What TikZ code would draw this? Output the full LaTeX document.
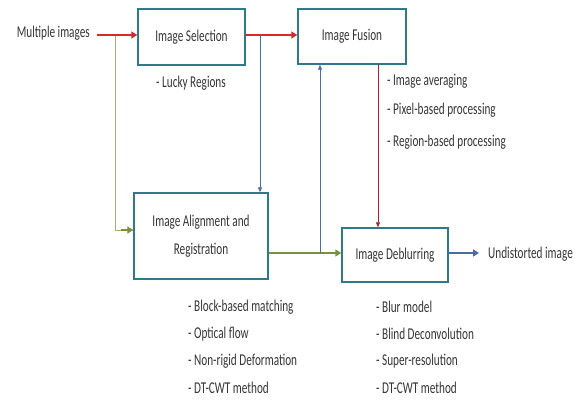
\documentclass[tikz,border=0pt]{standalone}
\usepackage{fontspec}
\setmainfont{Carlito}[FakeStretch=0.68]
\usetikzlibrary{arrows.meta}
\definecolor{boxc}{HTML}{2E7A8A}
\definecolor{redc}{HTML}{D42A2A}
\definecolor{greenc}{HTML}{77933C}
\definecolor{bluec}{HTML}{4A6BA5}
\definecolor{txt}{HTML}{363636}
\begin{document}
\begin{tikzpicture}[x=1pt,y=-1pt,
  box/.style={draw=boxc,line width=1.4pt,fill=white,inner sep=0pt,align=center,font=\fontsize{16.5}{28}\selectfont,text=txt},
  lab/.style={anchor=west,inner sep=0pt,font=\fontsize{16.5}{20}\selectfont,text=txt},
  rarr/.style={draw=redc,line width=1.6pt,-{Triangle[length=6pt,width=7pt]}},
  garr/.style={draw=greenc,line width=1.6pt,-{Triangle[length=6pt,width=7pt]}},
  barr/.style={draw=bluec,line width=1.6pt,-{Triangle[length=6pt,width=7pt]}},
  rthin/.style={draw=redc!80!black,line width=0.8pt,-{Triangle[length=5pt,width=4pt]}},
  bthin/.style={draw=bluec,line width=0.8pt,-{Triangle[length=5pt,width=4pt]}},
  gthin/.style={draw=greenc!70!white,line width=0.9pt}]
\useasboundingbox (0,0) rectangle (582,401);
\fill[white] (0,0) rectangle (582,401);
% boxes
\node[box,minimum width=107pt,minimum height=56pt] (sel) at (191.5,37) {Image Selection};
\node[box,minimum width=108pt,minimum height=55pt] (fus) at (352,36.5) {Image Fusion};
\node[box,minimum width=134pt,minimum height=86pt] (ali) at (201,236) {Image Alignment and\\Registration};
\node[box,minimum width=106pt,minimum height=54pt] (deb) at (395,255) {Image Deblurring};
% texts
\node[lab,anchor=east] (mi) at (90,33) {Multiple images};
\node[lab] (out) at (488,254) {Undistorted image};
\node[lab] (lucky) at (156,83) {- Lucky Regions};
\node[lab] (f1) at (387,81) {- Image averaging};
\node[lab] (f2) at (387,110) {- Pixel-based processing};
\node[lab] (f3) at (387,142) {- Region-based processing};
\node[lab] (a1) at (188,307) {- Block-based matching};
\node[lab] (a2) at (188,334) {- Optical flow};
\node[lab] (a3) at (188,361) {- Non-rigid Deformation};
\node[lab] (a4) at (188,388) {- DT-CWT method};
\node[lab] (d1) at (376,307) {- Blur model};
\node[lab] (d2) at (376,334) {- Blind Deconvolution};
\node[lab] (d3) at (376,361) {- Super-resolution};
\node[lab] (d4) at (376,388) {- DT-CWT method};
% coordinates
\coordinate (m0) at (97,35);
\coordinate (g0) at (115,35);
\coordinate (g1) at (121,230);
\coordinate (s0) at (260,35);
\coordinate (j0) at (320,253);
\coordinate (r0) at (378,64);
\coordinate (o0) at (479,253);
% connectors
\draw[gthin] (g0) |- (ali.west |- g1);
\draw[garr] (g1) -- (ali.west |- g1);
\draw[rarr] (m0) -- (sel.west |- m0);
\draw[rarr] (sel.east |- s0) -- (fus.west |- s0);
\draw[bthin] (s0) -- (s0 |- ali.north);
\draw[garr] (ali.east |- j0) -- (deb.west |- j0);
\draw[bthin] (j0) -- (j0 |- fus.south);
\draw[rthin] (r0) -- (r0 |- deb.north);
\draw[barr] (deb.east |- j0) -- (o0);
\end{tikzpicture}
\end{document}
